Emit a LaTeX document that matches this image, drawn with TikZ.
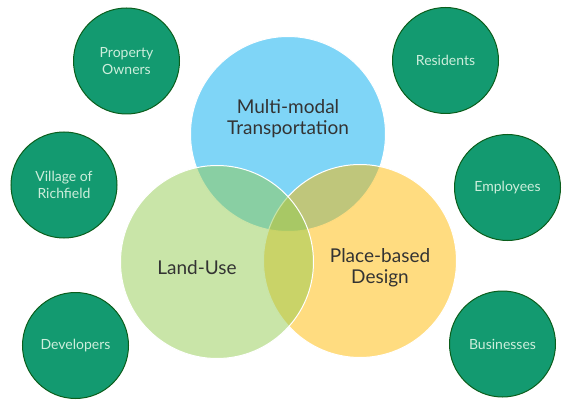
\documentclass[tikz,border=0pt]{standalone}
\usepackage{fontspec}
\setmainfont{Lato}
\usetikzlibrary{positioning}
\definecolor{vennblue}{HTML}{7FD5F7}
\definecolor{vennyellow}{HTML}{FFB901}
\definecolor{venngreen}{HTML}{93CB51}
\definecolor{stakefill}{HTML}{139A70}
\definecolor{stakeline}{HTML}{0B5E1C}
\definecolor{staketext}{HTML}{CDEEDC}

\begin{document}
\begin{tikzpicture}[x=1pt,y=-1pt]
    \tikzstyle{venn}=[circle,draw=white,line width=1pt,minimum size=193pt,inner sep=0pt]
    \tikzstyle{stake}=[circle,fill=stakefill,draw=stakeline,line width=1pt,minimum size=106pt,inner sep=0pt,align=center,font=\fontsize{14}{17}\selectfont,text=staketext]
    \tikzstyle{vtext}=[align=center,font=\fontsize{19}{21}\selectfont,text=black!80]
    \useasboundingbox (0,0) rectangle (568,401);
    % three overlapping areas
    \node[venn,fill=vennblue,minimum size=195pt] (trans) at (288,134) {};
    \node[venn,fill=vennyellow,fill opacity=0.5] (place) at (360,261) {};
    \node[venn,fill=venngreen,fill opacity=0.5] (land) at (217,262) {};
    \node[vtext] (transt) at (288,119) {Multi-modal\\Transportation};
    \node[vtext] (landt) at (197,268) {Land-Use};
    \node[vtext] (placet) at (380,268) {Place-based\\Design};
    % stakeholders
    \node[stake] (owners) at (126.5,61) {Property\\Owners};
    \node[stake] (village) at (64,185) {Village of\\Richfield};
    \node[stake] (devel) at (75.5,345.5) {Developers};
    \node[stake] (resid) at (445.5,60.5) {Residents};
    \node[stake] (employ) at (507.5,187.5) {Employees};
    \node[stake] (busin) at (502.5,344) {Businesses};
\end{tikzpicture}
\end{document}
